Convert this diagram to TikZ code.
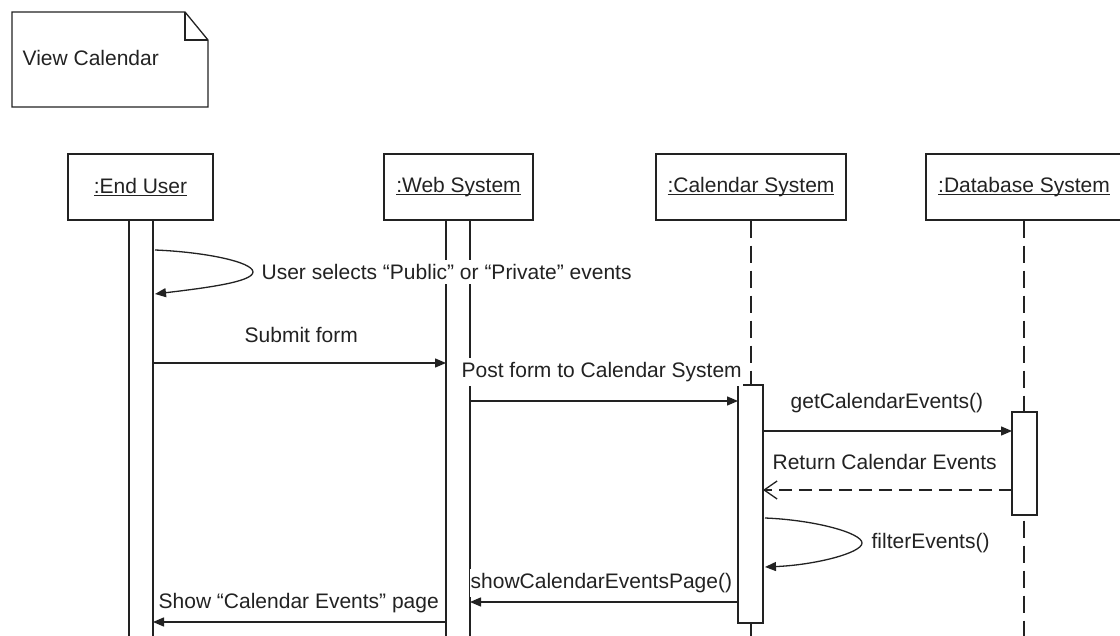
\documentclass[tikz,border=0pt]{standalone}
\usepackage{fontspec}
\setmainfont{Liberation Sans}
\usetikzlibrary{arrows.meta}
% underline set close to the baseline, crossing descenders
\newcommand\objname[1]{\setbox0\hbox{#1}\rlap{\vrule width\wd0 height -1.4pt depth 2.8pt}\box0}
\definecolor{ink}{HTML}{222222}
\begin{document}
\begin{tikzpicture}[x=1pt,y=-1pt,line width=1.3pt,draw=ink,text=ink,
  font=\fontsize{21}{24}\selectfont,
  objbox/.style={draw,minimum height=66pt,inner sep=0pt},
  bar/.style={draw,fill=white},
  life/.style={dash pattern=on 17pt off 8pt},
  lbl/.style={anchor=west,fill=white,inner xsep=1pt,inner ysep=4pt},
  msg/.style={-{Triangle[length=11pt,width=9pt]}},
  reply/.style={dash pattern=on 13pt off 7pt,-{Straight Barb[length=13pt,width=18pt]}}]
\useasboundingbox (0,0) rectangle (1120,636);

% note with folded corner
\draw (12,12) -- (185,12) -- (208,40) -- (208,107) -- (12,107) -- cycle;
\draw (185,12) -- (185,40) -- (208,40);
\node[anchor=west,inner sep=0pt] (title) at (22,58) {View Calendar};

% participants
\node[objbox,minimum width=145pt] (user) at (140.5,187) {\objname{:End User}};
\node[objbox,minimum width=149pt] (web)  at (458.5,187) {\objname{:Web System}};
\node[objbox,minimum width=190pt] (cal)  at (751,187) {\objname{:Calendar System}};
\node[objbox,minimum width=196pt] (db)   at (1024,187) {\objname{:Database System}};

% lifelines and activation bars
\draw[bar] (129,220) rectangle (153,660);
\draw[bar] (446,220) rectangle (470,660);
\draw[life] (cal.south) -- (751,660);
\draw[life] (db.south) -- (1024,660);
\draw[bar] (738,385) rectangle (763,623);
\draw[bar] (1012,412) rectangle (1037,515);

% message labels
\node[lbl] (l1) at (260,272) {User selects “Public” or “Private” events};
\node[lbl] (l2) at (243,335) {Submit form};
\node[lbl] (l3) at (460,372) {Post form to Calendar System};
\node[lbl] (l4) at (789,403) {getCalendarEvents()};
\node[lbl] (l5) at (771,462) {Return Calendar Events};
\node[lbl] (l6) at (870,543) {filterEvents()};
\node[lbl] (l7) at (469,583) {showCalendarEventsPage()};
\node[lbl] (l8) at (157,603) {Show “Calendar Events” page};

% message end points on the lifelines
\coordinate (u1) at (155,250);
\coordinate (u2) at (253,272);
\coordinate (u3) at (155,294);
\coordinate (uS) at (153,363);
\coordinate (wS) at (446,363);
\coordinate (wP) at (470,401);
\coordinate (cP) at (738,401);
\coordinate (cG) at (763,431);
\coordinate (dG) at (1012,431);
\coordinate (dR) at (1012,490);
\coordinate (cR) at (763,490);
\coordinate (c1) at (765,518);
\coordinate (c2) at (862,543);
\coordinate (c3) at (765,567);
\coordinate (cW) at (738,602);
\coordinate (wW) at (470,602);
\coordinate (wU) at (446,622);
\coordinate (uU) at (153,622);

% messages
\draw[msg] (u1) .. controls (205,252) and (253,262) .. (u2)
                .. controls (253,282) and (205,288) .. (u3);
\draw[msg] (uS) -- (wS);
\draw[msg] (wP) -- (cP);
\draw[msg] (cG) -- (dG);
\draw[reply] (dR) -- (cR);
\draw[msg] (c1) .. controls (815,520) and (862,533) .. (c2)
                .. controls (862,553) and (815,565) .. (c3);
\draw[msg] (cW) -- (wW);
\draw[msg] (wU) -- (uU);
\end{tikzpicture}
\end{document}
